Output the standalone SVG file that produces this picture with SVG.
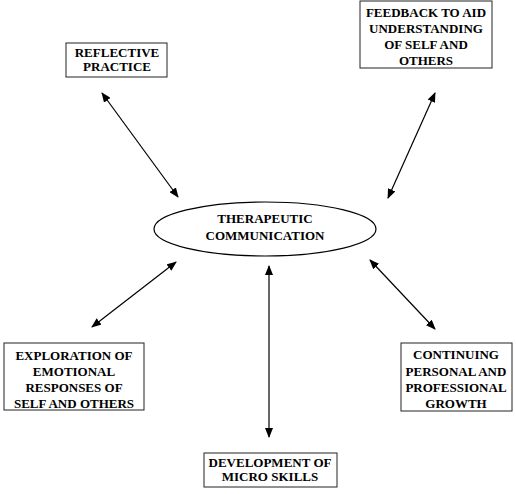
<svg xmlns="http://www.w3.org/2000/svg" width="516" height="494" viewBox="0 0 516 494">
<style>
.box{fill:#fff;stroke:#222;stroke-width:1}
.t{font-family:"Liberation Serif","Times New Roman",serif;font-weight:bold;font-size:13px;fill:#000;text-anchor:middle}
.c{stroke:#000;stroke-width:1.2;fill:none;marker-start:url(#ah);marker-end:url(#ah)}
</style>
<defs>
<marker id="ah" viewBox="0 0 10 8" refX="9" refY="4" markerWidth="10" markerHeight="8" markerUnits="userSpaceOnUse" orient="auto-start-reverse">
<path d="M0,0 L10,4 L0,8 z" fill="#000"/>
</marker>
</defs>
<rect width="516" height="494" fill="#fff"/>
<g id="connectors">
<line class="c" x1="102" y1="93" x2="178" y2="197"/>
<line class="c" x1="435" y1="93" x2="388" y2="198"/>
<line class="c" x1="92" y1="327" x2="176" y2="262"/>
<line class="c" x1="269" y1="266" x2="269" y2="437"/>
<line class="c" x1="370" y1="260" x2="435" y2="329"/>
</g>
<g id="center">
<ellipse cx="265" cy="229" rx="111" ry="27" fill="#fff" stroke="#000" stroke-width="1.2"/>
<text class="t" x="265" y="223">THERAPEUTIC</text>
<text class="t" x="265" y="240">COMMUNICATION</text>
</g>
<g id="reflective">
<rect class="box" x="66" y="43" width="101" height="34"/>
<text class="t" x="117" y="57">REFLECTIVE</text>
<text class="t" x="117" y="71">PRACTICE</text>
</g>
<g id="feedback">
<rect class="box" x="360" y="1" width="132" height="67"/>
<text class="t" x="426" y="17">FEEDBACK TO AID</text>
<text class="t" x="426" y="33">UNDERSTANDING</text>
<text class="t" x="426" y="49">OF SELF AND</text>
<text class="t" x="426" y="65">OTHERS</text>
</g>
<g id="exploration">
<rect class="box" x="4" y="343" width="140" height="67"/>
<text class="t" x="74" y="360">EXPLORATION OF</text>
<text class="t" x="74" y="376">EMOTIONAL</text>
<text class="t" x="74" y="392">RESPONSES OF</text>
<text class="t" x="74" y="408">SELF AND OTHERS</text>
</g>
<g id="continuing">
<rect class="box" x="401" y="343" width="111" height="68"/>
<text class="t" x="456" y="359">CONTINUING</text>
<text class="t" x="456" y="376">PERSONAL AND</text>
<text class="t" x="456" y="392">PROFESSIONAL</text>
<text class="t" x="456" y="408">GROWTH</text>
</g>
<g id="development">
<rect class="box" x="204" y="453" width="133" height="34"/>
<text class="t" x="270" y="467">DEVELOPMENT OF</text>
<text class="t" x="270" y="481">MICRO SKILLS</text>
</g>
</svg>
